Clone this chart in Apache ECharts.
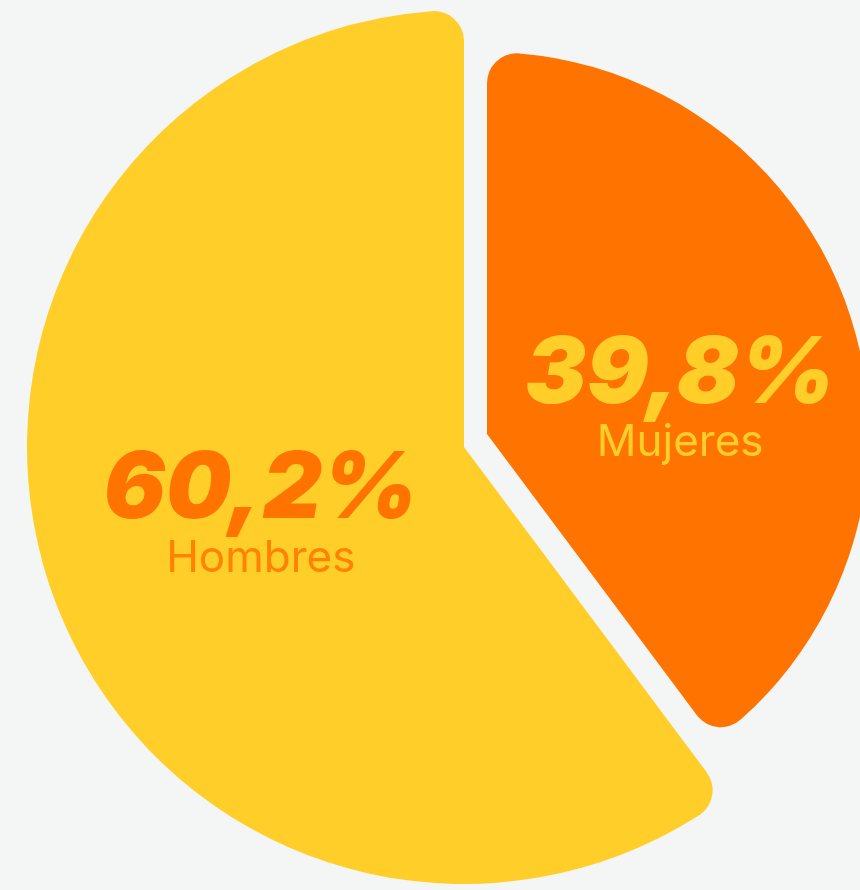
<!DOCTYPE html>
<html>
<head>
    <meta charset="utf-8">
    <title>Hombres / Mujeres</title>
    <script src="https://cdn.jsdelivr.net/npm/echarts@6/dist/echarts.min.js"></script>
    <style>
        html, body { margin: 0; padding: 0; background: #f4f5f5; }
        #main { width: 860px; height: 890px; }
    </style>
</head>
<body>
    <div id="main"></div>
    <script type="text/javascript">
        // datos (orden en sentido horario desde arriba)
        var categories = ['Mujeres', 'Hombres'];
        var values = [39.8, 60.2];
        var sliceColors = ['#ff7400', '#ffce29'];
        var labelColors = ['#ffce29', '#ff7400'];
        var nameColors = ['#ffce29', '#ff8200'];

        var fmt = function (v) {
            return v.toFixed(1).replace('.', ',') + '%';
        };

        // cada porción va en su propia serie (centro y radio distintos),
        // la otra queda transparente como relleno
        function buildSeries(idx, center, radius, shift) {
            var data = categories.map(function (name, i) {
                var item = { name: name, value: values[i] };
                if (i === idx) {
                    item.itemStyle = { color: sliceColors[i] };
                    item.label = {
                        show: true,
                        position: 'inside',
                        formatter: function (p) {
                            return '{p|' + fmt(p.value) + '}\n{n|' + p.name + '}';
                        },
                        rich: {
                            p: {
                                fontFamily: 'Inter',
                                fontWeight: 900,
                                fontStyle: 'italic',
                                fontSize: 92,
                                lineHeight: 84,
                                color: labelColors[i],
                                align: 'center'
                            },
                            n: {
                                fontFamily: 'Inter',
                                fontWeight: 400,
                                fontSize: 44,
                                lineHeight: 52,
                                color: nameColors[i],
                                align: 'center'
                            }
                        }
                    };
                } else {
                    item.itemStyle = { color: 'rgba(0,0,0,0)' };
                    item.label = { show: false };
                }
                return item;
            });
            return {
                type: 'pie',
                center: center,
                radius: radius,
                startAngle: 90,
                clockwise: true,
                silent: true,
                emphasis: { disabled: true },
                labelLine: { show: false },
                itemStyle: { borderRadius: [0, 30] },
                labelLayout: function () {
                    return { dx: shift[0], dy: shift[1] };
                },
                data: data
            };
        }

        var myChart = echarts.init(document.getElementById('main'));
        var option = {
            backgroundColor: '#f4f5f5',
            animation: false,
            series: [
                buildSeries(1, [464, 447], 437, [7, 0]),
                buildSeries(0, [487, 434], 382, [9, 28])
            ]
        };
        myChart.setOption(option);
    </script>
</body>
</html>
